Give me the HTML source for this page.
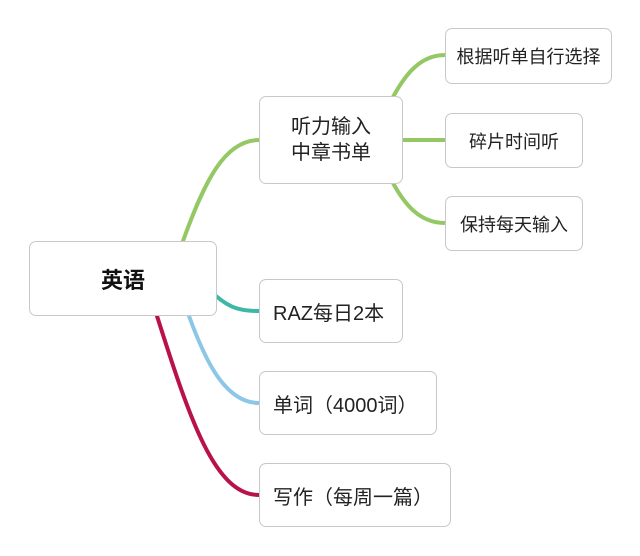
<!DOCTYPE html><html><head><meta charset="utf-8"><style>
body{margin:0;width:640px;height:556px;background:#fff;position:relative;overflow:hidden;font-family:"Liberation Sans","Noto Sans CJK SC",sans-serif;}
.b{position:absolute;box-sizing:border-box;border:1px solid #c8c8c8;border-radius:7px;background:#fff;display:flex;align-items:center;font-size:20px;color:#222;}
.c{justify-content:center;text-align:center}
.l{padding-left:13px}
</style></head><body>
<svg width="640" height="556" style="position:absolute;left:0;top:0" fill="none" stroke-width="4" stroke-linecap="round">
<path d="M183 241 C205 180 225 140 259 140" stroke="#94c865"/>
<path d="M216 296 C230 308 240 311 259 311" stroke="#3db8a6"/>
<path d="M189 316 C205 360 225 403 259 403" stroke="#8cc7e6"/>
<path d="M157 316 C190 420 215 495 259 495" stroke="#b9124b"/>
<path d="M393 97 C405 75 420 55 445 55" stroke="#94c865"/>
<path d="M402 140 L445 140" stroke="#94c865"/>
<path d="M393 183 C405 205 420 223 445 223" stroke="#94c865"/>
</svg>
<div class="b c" style="left:29px;top:241px;width:188px;height:75px;font-weight:bold;font-size:22px;color:#111">英语</div>
<div class="b c" style="left:259px;top:96px;width:144px;height:88px;line-height:26px">听力输入<br>中章书单</div>
<div class="b l" style="left:259px;top:279px;width:144px;height:64px">RAZ每日2本</div>
<div class="b l" style="left:259px;top:371px;width:178px;height:64px">单词（4000词）</div>
<div class="b l" style="left:259px;top:463px;width:192px;height:64px">写作（每周一篇）</div>
<div class="b c" style="left:445px;top:28px;width:167px;height:56px;font-size:18px">根据听单自行选择</div>
<div class="b c" style="left:445px;top:113px;width:138px;height:55px;font-size:18px">碎片时间听</div>
<div class="b c" style="left:445px;top:196px;width:138px;height:55px;font-size:18px">保持每天输入</div>
</body></html>
